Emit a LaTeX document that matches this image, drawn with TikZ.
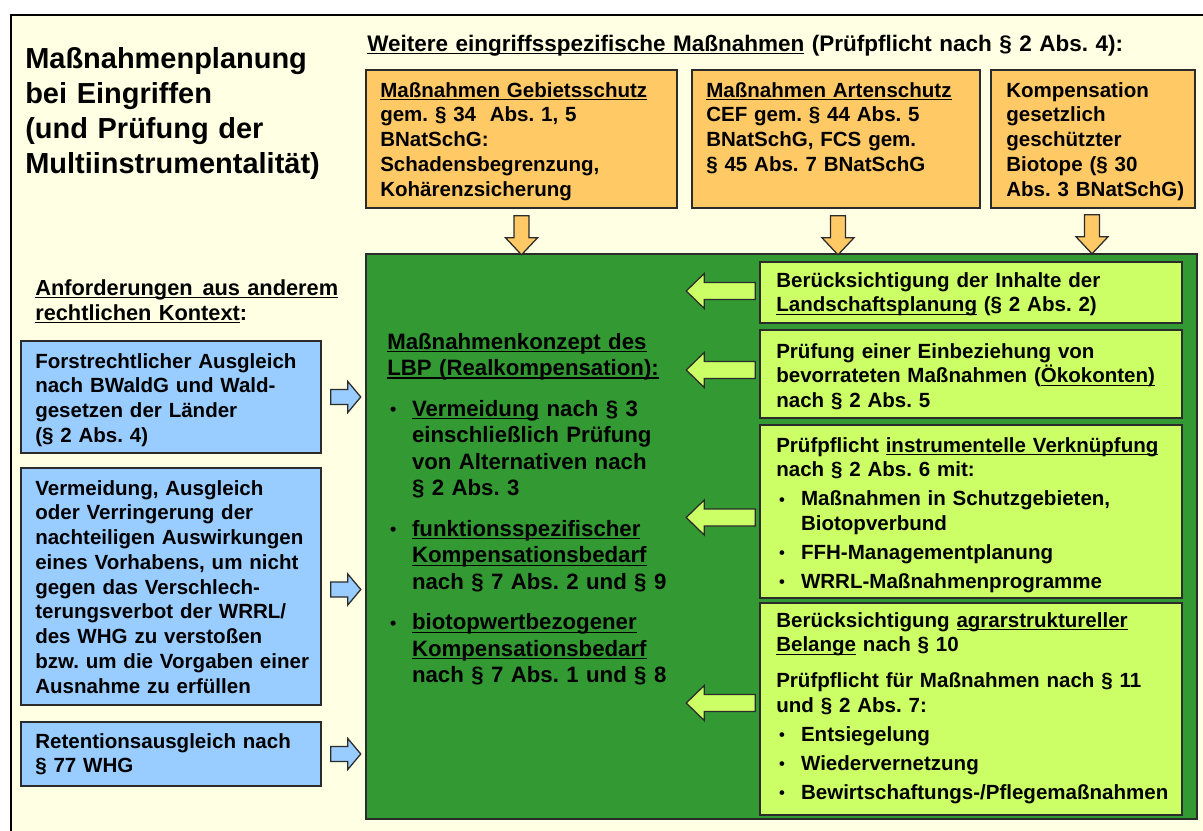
\documentclass[tikz,border=0pt]{standalone}
\usepackage{fontspec}
\setmainfont{Liberation Sans}
\usetikzlibrary{calc,fit}
\frenchspacing

\definecolor{paper}{HTML}{FFFFE3}
\definecolor{boxline}{HTML}{2B2B2B}
\definecolor{orangebox}{HTML}{FFC966}
\definecolor{darkgreen}{HTML}{339933}
\definecolor{lightgreen}{HTML}{CCFF66}
\definecolor{bluebox}{HTML}{99CCFF}

% fonts
\newcommand{\titlefont}{\fontsize{20.6pt}{24.9pt}\selectfont\bfseries}
\newcommand{\headfont}{\fontsize{16pt}{17.8pt}\selectfont\bfseries}
\newcommand{\boxfont}{\fontsize{14.6pt}{17.6pt}\selectfont\bfseries}
\newcommand{\konzfont}{\fontsize{15.8pt}{18.85pt}\selectfont\bfseries}

% underline at fixed depth, bullets
\newcommand{\uln}[1]{\leavevmode\setbox0\hbox{#1}\rlap{\rule[-2.3pt]{\wd0}{0.9pt}}\box0\relax}
\newcommand{\itm}{\hspace*{2pt}\makebox[15.6pt][l]{\raisebox{0.5pt}{\scalebox{0.8}{\textbullet}}}}
\newcommand{\ind}{\hspace*{17.6pt}}

\tikzset{
  pics/fatarrow/.style args={#1/#2/#3/#4}{% length/head length/half shaft/half head
    code={\path[pic actions] (0,-#3) -- (#1-#2,-#3) -- (#1-#2,-#4) -- (#1,0)
      -- (#1-#2,#4) -- (#1-#2,#3) -- (0,#3) -- cycle;}
  }
}

\begin{document}
\begin{tikzpicture}[x=0.025cm,y=-0.025cm,
  frame/.style={draw=black,line width=2.1pt,fill=paper},
  box/.style={draw=boxline,line width=1.1pt,inner sep=0pt},
  obox/.style={box,fill=orangebox},
  gbox/.style={box,fill=darkgreen},
  lbox/.style={box,fill=lightgreen},
  bbox/.style={box,fill=bluebox},
  txt/.style={anchor=base west,inner sep=0pt,align=left,text width=11cm,font=\boxfont},
  oarrow/.style={draw=boxline,line width=0.9pt,fill=orangebox},
  larrow/.style={draw=boxline,line width=0.9pt,fill=lightgreen},
  barrow/.style={draw=boxline,line width=0.9pt,fill=bluebox}]

\useasboundingbox (0,0) rectangle (1203,830);
\clip (0,0) rectangle (1203,830);
\fill[white] (0,0) rectangle (1203,830);
\draw[frame] (11,15) rectangle (1230,860);

% title and headings
\node[txt,font=\titlefont] (title) at (25,68)
  {Maßnahmenplanung\\bei Eingriffen\\(und Prüfung der\\Multiinstrumentalität)};
\node[txt,font=\headfont,text width=24cm] (weitere) at (367,51)
  {\uln{Weitere eingriffsspezifische Maßnahmen} (Prüfpflicht nach § 2 Abs. 4):};
\node[txt,font=\fontsize{15.5pt}{17.8pt}\selectfont\bfseries] (anford) at (35,295)
  {\uln{Anforderungen\hspace{7pt}aus anderem}\\\uln{rechtlichen Kontext}:};

% orange boxes
\node[obox,fit={(366,70) (677,208)}] (gebiet) {};
\node[obox,fit={(692,70) (980,208)}] (arten) {};
\node[obox,fit={(991,70) (1195,208)}] (biotop) {};
\node[txt] (gebiet-t) at (380,97)
  {\uln{Maßnahmen Gebietsschutz}\\gem. § 34\ \ Abs. 1, 5\\BNatSchG:\\Schadensbegrenzung,\\Kohärenzsicherung};
\node[txt] (arten-t) at (706,97)
  {\uln{Maßnahmen Artenschutz}\\CEF gem. § 44 Abs. 5\\BNatSchG, FCS gem.\\§ 45 Abs. 7 BNatSchG};
\node[txt] (biotop-t) at (1006,97)
  {Kompensation\\gesetzlich\\geschützter\\Biotope (§ 30\\Abs. 3 BNatSchG)};

% main green box
\node[gbox,fit={(366,254) (1197,819)}] (konzept) {};
\node[txt,font=\konzfont] (konzept-t) at (387,349)
  {\uln{Maßnahmenkonzept des}\\\uln{LBP (Realkompensation):}\\[10pt]
   \itm\uln{Vermeidung} nach § 3\\\ind einschließlich Prüfung\\\ind von Alternativen nach\\\ind § 2 Abs. 3\\[10pt]
   \itm\uln{funktionsspezifischer}\\\ind\uln{Kompensationsbedarf}\\\ind nach § 7 Abs. 2 und § 9\\[10pt]
   \itm\uln{biotopwertbezogener}\\\ind\uln{Kompensationsbedarf}\\\ind nach § 7 Abs. 1 und § 8};

% light green boxes
\node[lbox,fit={(760,262) (1182,323)}] (lp) {};
\node[lbox,fit={(760,330) (1182,418)}] (oeko) {};
\node[lbox,fit={(760,425) (1182,598)}] (verkn) {};
\node[lbox,fit={(760,603) (1182,815)}] (agrar) {};
\node[txt] (lp-t) at (776,287)
  {Berücksichtigung der Inhalte der\\\uln{Landschaftsplanung} (§ 2 Abs. 2)};
\node[txt] (oeko-t) at (776,358)
  {Prüfung einer Einbeziehung von\\bevorrateten Maßnahmen (\uln{Ökokonten)}\\nach § 2 Abs. 5};
\node[txt] (verkn-t) at (776,452)
  {Prüfpflicht \uln{instrumentelle Verknüpfung}\\nach § 2 Abs. 6 mit:\\[3pt]
   \itm Maßnahmen in Schutzgebieten,\\\ind Biotopverbund\\[3pt]
   \itm FFH-Managementplanung\\[3pt]
   \itm WRRL-Maßnahmenprogramme};
\node[txt] (agrar-t) at (776,627)
  {Berücksichtigung \uln{agrarstruktureller}\\\uln{Belange} nach § 10\\[8pt]
   Prüfpflicht für Maßnahmen nach § 11\\und § 2 Abs. 7:\\[3pt]
   \itm Entsiegelung\\[3pt]
   \itm Wiedervernetzung\\[3pt]
   \itm Bewirtschaftungs-/Pflegemaßnahmen};

% blue boxes
\node[bbox,fit={(21,341) (321,453)}] (forst) {};
\node[bbox,fit={(21,468) (321,705)}] (wrrl) {};
\node[bbox,fit={(21,722) (321,786)}] (reten) {};
\node[txt] (forst-t) at (35,368)
  {Forstrechtlicher Ausgleich\\nach BWaldG und Wald-\\gesetzen der Länder\\(§ 2 Abs. 4)};
\node[txt] (wrrl-t) at (35,495)
  {Vermeidung, Ausgleich\\oder Verringerung der\\nachteiligen Auswirkungen\\eines Vorhabens, um nicht\\gegen das Verschlech-\\terungsverbot der WRRL/\\des WHG zu verstoßen\\bzw. um die Vorgaben einer\\Ausnahme zu erfüllen};
\node[txt] (reten-t) at (35,748)
  {Retentionsausgleich nach\\§ 77 WHG};

% arrows
\pic[oarrow,rotate=-90] at ($(gebiet.south)+(0,7)$) {fatarrow=39/17/7.5/16};
\pic[oarrow,rotate=-90] at ($(arten.south)+(2,7)$) {fatarrow=39/17/7.5/16};
\pic[oarrow,rotate=-90] at ($(biotop.south)+(-1,6)$) {fatarrow=39/17/7.5/16};
\pic[larrow,rotate=180] at ($(lp.west)+(-4,-1.5)$) {fatarrow=69/18/8.5/17.5};
\pic[larrow,rotate=180] at ($(oeko.west)+(-4,-4)$) {fatarrow=69/18/8.5/17.5};
\pic[larrow,rotate=180] at ($(verkn.west)+(-4,6)$) {fatarrow=69/18/8.5/17.5};
\pic[larrow,rotate=180] at ($(agrar.west)+(-4,-6)$) {fatarrow=69/18/8.5/17.5};
\pic[barrow] at ($(forst.east)+(9,0)$) {fatarrow=30/13/7.5/15.5};
\pic[barrow] at ($(wrrl.east)+(9,3)$) {fatarrow=30/13/7.5/15.5};
\pic[barrow] at ($(reten.east)+(9,0)$) {fatarrow=30/13/7.5/15.5};

\end{tikzpicture}
\end{document}
